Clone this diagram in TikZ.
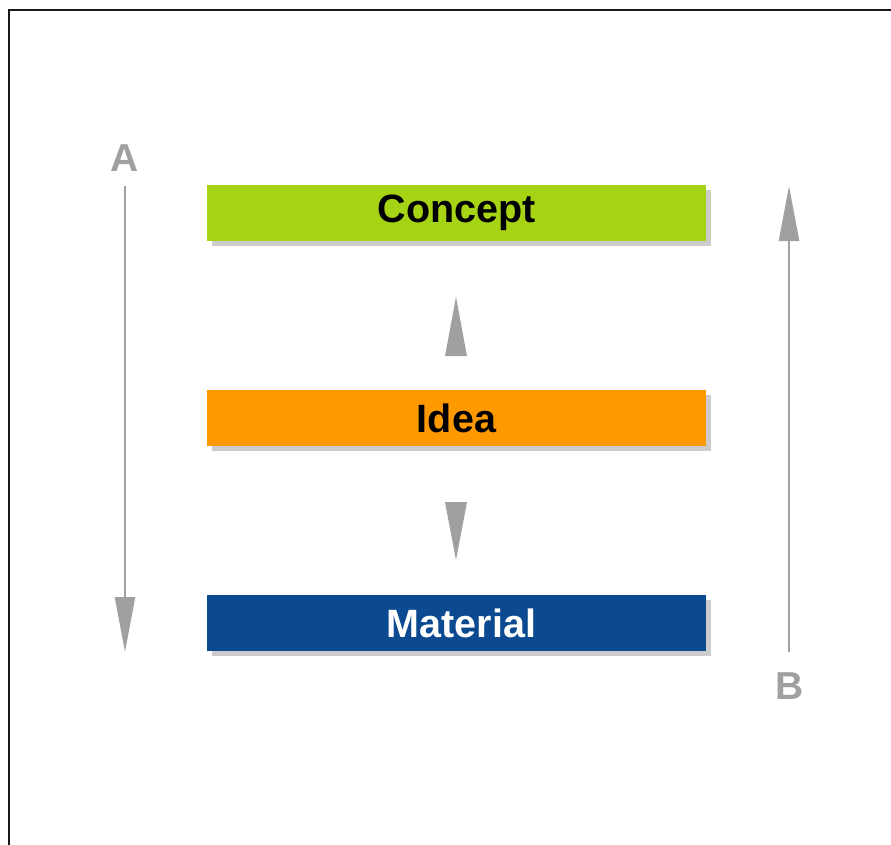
\documentclass[tikz,border=0pt]{standalone}
\usepackage{fontspec}
\setmainfont{Liberation Sans}
\usetikzlibrary{arrows.meta}
\definecolor{cgreen}{HTML}{A6D414}
\definecolor{corange}{HTML}{FF9900}
\definecolor{cblue}{HTML}{0B4A91}
\definecolor{cgray}{HTML}{A0A0A0}
\definecolor{cshadow}{HTML}{CCCCCC}
\tikzset{
  bar/.style={minimum width=499pt, minimum height=56pt, inner sep=0pt,
    font=\fontsize{39.5}{42}\selectfont\bfseries},
  shadowbox/.style={fill=cshadow},
  longarrow/.style={draw=cgray, line width=2.5pt, -{Triangle[length=55pt,width=20pt]}},
  letter/.style={text=cgray, font=\fontsize{39}{40}\selectfont\bfseries, inner sep=0pt},
  midtri/.style={fill=cgray}
}
\begin{document}
\begin{tikzpicture}[x=1pt,y=-1pt]
\useasboundingbox[fill=white] (0,0) rectangle (891,845);
% frame (right and bottom edges lie outside the picture)
\draw[line width=2.6pt, black!90] (9,845) -- (9,10) -- (891,10);
% shadows
\fill[shadowbox] (212,190) rectangle (711,246);
\fill[shadowbox] (212,395) rectangle (711,451);
\fill[shadowbox] (212,600) rectangle (711,656);
% bars
\node[bar, fill=cgreen, text=black] (concept) at (456.5,213) {\raisebox{-2pt}{Concept}};
\node[bar, fill=corange, text=black] (idea) at (456.5,418) {\raisebox{-1pt}{Idea}};
\node[bar, fill=cblue, text=white] (material) at (456.5,623) {\hspace{10pt}\raisebox{-1pt}{Material}};
% middle triangles
\fill[midtri] (456,297) -- (467,356) -- (445,356) -- cycle;
\fill[midtri] (445,502) -- (467,502) -- (456,560) -- cycle;
% side labels and arrows
\node[letter] (A) at (125,158) {A};
\node[letter] (B) at (790,686) {B};
\coordinate (aend) at (125,652);
\coordinate (bend) at (789,186);
\draw[longarrow] (125,186) -- (aend);
\draw[longarrow] (789,652) -- (bend);
\end{tikzpicture}
\end{document}
